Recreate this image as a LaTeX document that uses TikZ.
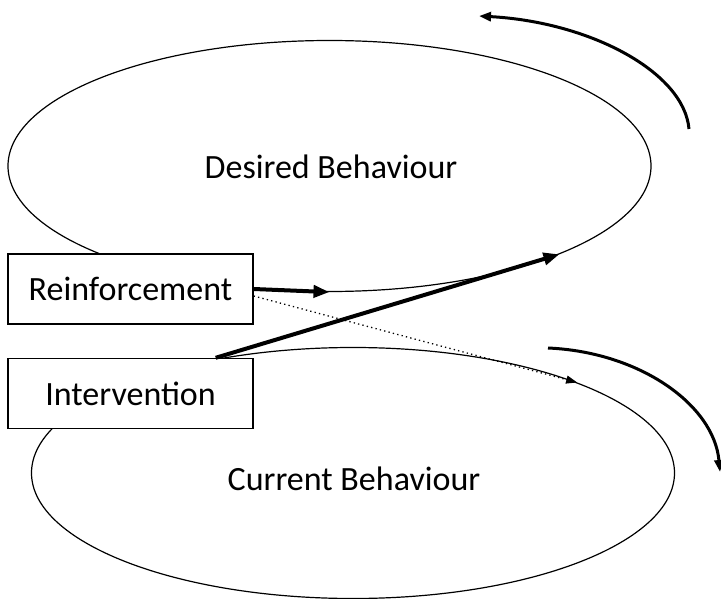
\documentclass[tikz,border=0pt]{standalone}
\usepackage{fontspec}
\setmainfont{Carlito}
\usetikzlibrary{arrows.meta,positioning,shapes.geometric}

\begin{document}
\begin{tikzpicture}[
  x=1pt, y=-1pt,
  every node/.style={font=\fontsize{34}{41}\selectfont, inner sep=0pt},
  behaviour/.style={ellipse, draw, line width=1.2pt, minimum width=643pt, minimum height=251pt},
  factor/.style={rectangle, draw, line width=1.4pt, fill=white, minimum width=245pt, minimum height=70pt},
  push/.style={draw, line width=4pt, -{Triangle[length=16pt,width=12pt]}},
  hint/.style={draw, line width=1.3pt, dash pattern=on 1.3pt off 3.2pt, -{Triangle[length=11pt,width=8pt]}},
  cycle/.style={draw, line width=3pt, -{Triangle[length=12pt,width=9pt]}}
]
\useasboundingbox (0,0) rectangle (721,599);

\node[behaviour] (desired) at (329.5,166) {};
\node (desiredtxt) at (331,167) {Desired Behaviour};
\node[behaviour] (current) at (353,473) {};
\node (currenttxt) at (354,479) {Current Behaviour};

\node[factor] (reinf) at (130.5,289) {Reinforcement};
\node[factor] (interv) at (130.5,393.5) {Intervention};

% free ends of the turning arrows
\coordinate (topstart) at (689,129);
\coordinate (topend) at (479,16);
\coordinate (botstart) at (548,348);
\coordinate (botend) at (720,472);

\draw[push] (reinf.east) -- (desired.south);
\draw[push] ([xshift=-38pt]interv.north east) -- (desired.-21.5);
\draw[hint] ([yshift=-7pt]reinf.east) -- (current.22);

\draw[cycle] (topstart) .. controls (684,72) and (590,22) .. (topend);
\draw[cycle] (botstart) .. controls (640,352) and (714,405) .. (botend);
\end{tikzpicture}
\end{document}
